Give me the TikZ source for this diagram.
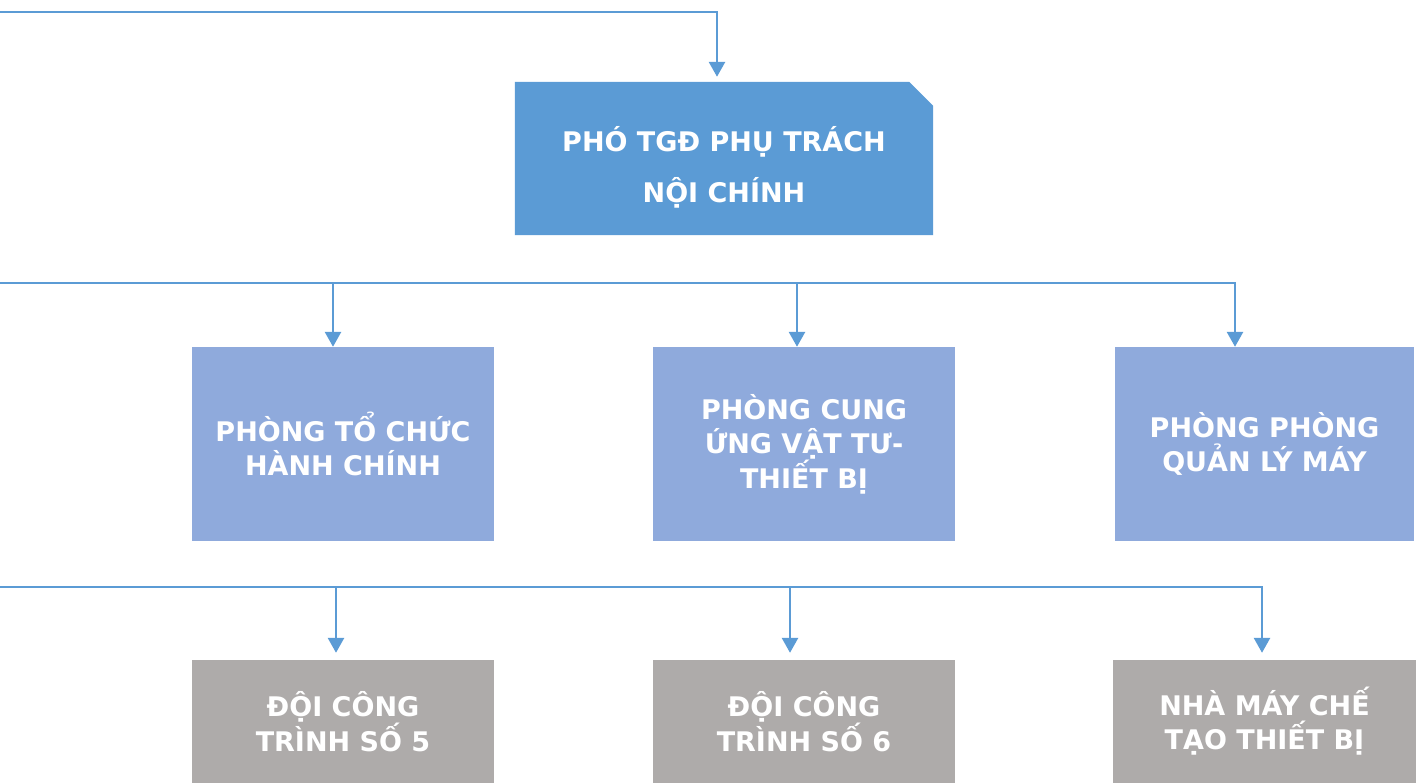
\documentclass[tikz,border=0pt]{standalone}
\usepackage{fontspec}
\setmainfont{DejaVu Sans}
\usetikzlibrary{arrows.meta,backgrounds}
\definecolor{Line}{HTML}{5B9BD5}
\definecolor{Head}{HTML}{5B9BD5}
\definecolor{Dept}{HTML}{8FAADC}
\definecolor{Unit}{HTML}{AEABAA}

\begin{document}
\begin{tikzpicture}[x=1pt,y=-1pt,
 lead/.style={text=white,font=\bfseries\fontsize{27}{51}\selectfont,align=center,minimum width=418pt,minimum height=153pt,inner sep=0pt},
 dept/.style={fill=Dept,text=white,font=\bfseries\fontsize{27}{34}\selectfont,align=center,minimum width=302pt,minimum height=194pt,inner sep=0pt},
 unit/.style={fill=Unit,text=white,font=\bfseries\fontsize{27}{34}\selectfont,align=center,minimum width=302pt,minimum height=123pt,inner sep=0pt},
 bus/.style={draw=Line,line width=2.8pt},
 arr/.style={draw=Line,line width=2.8pt,-{Triangle[length=15pt,width=16pt]}}
]
\useasboundingbox (0,0) rectangle (1416,783);
% lãnh đạo
\node[lead] (pho) at (724,158.5) {\rule{0pt}{43pt}PHÓ TGĐ PHỤ TRÁCH\\NỘI CHÍNH};
\begin{scope}[on background layer]
\fill[Head] (pho.south west) -- (pho.north west) -- ([xshift=-24pt]pho.north east) -- ([yshift=-24pt]pho.north east) -- (pho.south east) -- cycle;
\end{scope}
% phòng ban
\node[dept] (tchc) at (343,444) {PHÒNG TỔ CHỨC\\HÀNH CHÍNH};
\node[dept] (cung) at (804,444) {PHÒNG CUNG\\ỨNG VẬT TƯ-\\THIẾT BỊ};
\node[dept,minimum width=299pt] (qlm) at (1264.5,444) {PHÒNG PHÒNG\\QUẢN LÝ MÁY};
% đơn vị
\node[unit] (doi5) at (343,721.5) {ĐỘI CÔNG\\TRÌNH SỐ 5};
\node[unit] (doi6) at (804,721.5) {ĐỘI CÔNG\\TRÌNH SỐ 6};
\node[unit,minimum width=303pt] (nhamay) at (1264.5,721.5) {NHÀ MÁY CHẾ\\TẠO THIẾT BỊ};
% connectors
\coordinate (src) at (0,12);
\coordinate (b2) at (0,283);
\coordinate (t1) at (333,283);
\coordinate (t2) at (797,283);
\coordinate (t3) at (1235,283);
\coordinate (b3) at (0,587);
\coordinate (u1) at (336,587);
\coordinate (u2) at (790,587);
\coordinate (u3) at (1262,587);
\draw[arr,shorten >=5pt] (src) -| ([xshift=-7pt]pho.north);
\draw[arr] (b2) -| (t3 |- qlm.north);
\draw[arr] (t1) -- (t1 |- tchc.north);
\draw[arr] (t2) -- (t2 |- cung.north);
\draw[arr,shorten >=7pt] (b3) -| (u3 |- nhamay.north);
\draw[arr,shorten >=7pt] (u1) -- (u1 |- doi5.north);
\draw[arr,shorten >=7pt] (u2) -- (u2 |- doi6.north);
\end{tikzpicture}
\end{document}
